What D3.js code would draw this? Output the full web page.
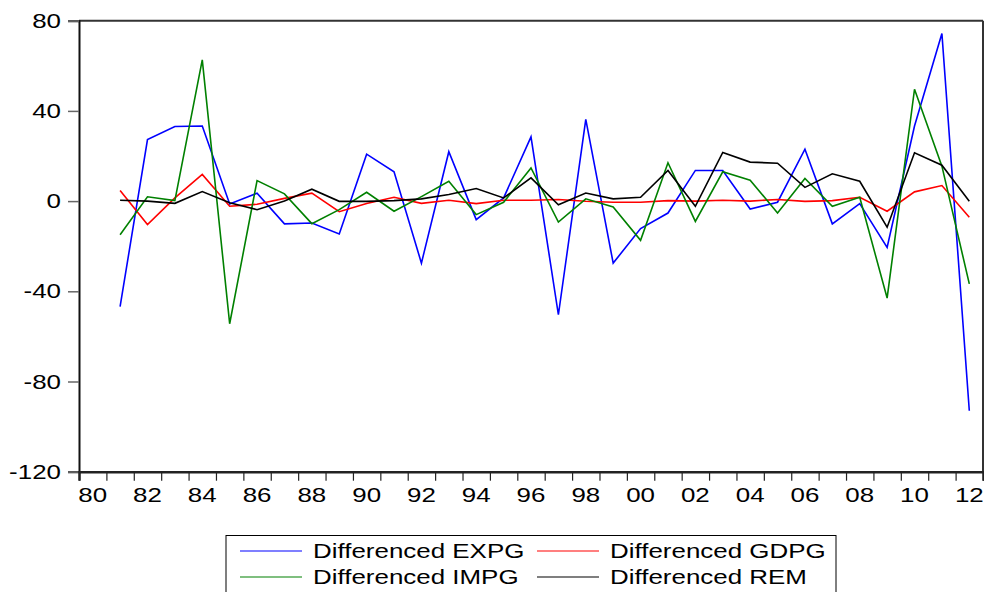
<!DOCTYPE html>
<html><head><meta charset="utf-8">
<script src="https://cdn.jsdelivr.net/npm/d3@7"></script>
<style>body{margin:0;background:#fff}svg{display:block}text{font-family:"Liberation Sans",Arial,sans-serif}</style>
</head><body>
<script>
const years = [1981,1982,1983,1984,1985,1986,1987,1988,1989,1990,1991,1992,1993,1994,1995,1996,1997,1998,1999,2000,2001,2002,2003,2004,2005,2006,2007,2008,2009,2010,2011,2012];
const expg = [-46.8,27.3,33.1,33.3,-1.3,3.5,-10.1,-9.7,-14.6,20.8,13.0,-27.5,21.9,-8.2,1.4,28.5,-50.4,36.2,-27.5,-12.2,-5.3,13.6,13.6,-3.5,-0.5,23.0,-10.1,-1.1,-20.5,33.3,74.3,-93.0];
const gdpg = [4.7,-10.4,1.4,11.8,-2.3,-1.4,1.2,3.5,-4.7,-1.1,1.7,-1.0,0.4,-1.1,0.4,0.4,0.7,-0.1,-0.5,-0.5,0.2,0.0,0.4,0.0,0.7,-0.1,0.2,1.7,-4.5,4.1,6.9,-7.2];
const impg = [-14.9,1.9,0.2,62.6,-54.4,9.1,3.2,-10.0,-3.8,3.9,-4.5,2.0,8.8,-6.0,-0.5,14.7,-9.3,1.0,-2.6,-17.4,17.0,-9.0,13.0,9.3,-5.3,10.0,-2.3,1.7,-43.0,49.6,15.5,-36.7];
const rem = [0.4,0.0,-1.0,4.2,-0.7,-3.8,0.0,5.3,-0.1,-0.1,0.2,1.0,2.9,5.6,1.4,10.3,-1.6,3.6,1.0,1.7,13.6,-2.3,21.6,17.3,16.8,6.1,12.1,8.8,-11.6,21.4,15.9,-0.1];
const yTicks = [-120,-80,-40,0,40,80];
const xLabelYears = [1980,1982,1984,1986,1988,1990,1992,1994,1996,1998,2000,2002,2004,2006,2008,2010,2012];
const xLabels = ["80","82","84","86","88","90","92","94","96","98","00","02","04","06","08","10","12"];
const seriesNames = ["Differenced EXPG","Differenced GDPG","Differenced IMPG","Differenced REM"];
const seriesColors = ["#0000ff","#ff0000","#008000","#000000"];

const W = 984, H = 592, SX = 1.33, FS = 19.5;
const svg = d3.select("body").append("svg").attr("width", W).attr("height", H);
const x = d3.scaleLinear().domain([1980, 2013]).range([79, 983]);
const y = d3.scaleLinear().domain([-120, 80]).range([471.7, 20.7]);

function stext(g, tx, ty, str, anchor) {
  return g.append("text").attr("transform", `translate(${tx},${ty}) scale(${SX},1)`)
    .attr("text-anchor", anchor).attr("font-size", FS).attr("fill", "#000").text(str);
}

// frame top/right
svg.append("line").attr("x1", 79).attr("x2", 983).attr("y1", y(80)).attr("y2", y(80)).attr("stroke", "#333").attr("stroke-width", 2);
svg.append("line").attr("x1", 983).attr("x2", 983).attr("y1", y(80)).attr("y2", y(-120)).attr("stroke", "#333").attr("stroke-width", 2);

// y axis
const yAxis = svg.append("g").attr("transform", "translate(79,0)")
  .call(d3.axisLeft(y).tickValues(yTicks).tickSize(11).tickFormat(""));
yAxis.select(".domain").attr("stroke", "#111").attr("stroke-width", 2);
yAxis.selectAll(".tick line").attr("stroke", "#666").attr("stroke-width", 1.5);
yTicks.forEach(v => stext(svg, 61, y(v) + 7, String(v), "end"));

// x axis
const allYears = d3.range(1980, 2014);
const xAxis = svg.append("g").attr("transform", `translate(0,${y(-120)})`)
  .call(d3.axisBottom(x).tickValues(allYears).tickSize(9).tickFormat(""));
xAxis.select(".domain").attr("stroke", "#222").attr("stroke-width", 2.5);
xAxis.selectAll(".tick line").attr("stroke", "#222").attr("stroke-width", 1.2);
xLabelYears.forEach((yr, i) => stext(svg, x(yr + 0.5), 502, xLabels[i], "middle"));

// series
const allSeries = [expg, gdpg, impg, rem];
const line = d3.line().x((d, i) => x(years[i] + 0.5)).y(d => y(d));
allSeries.forEach((s, k) => {
  svg.append("path").datum(s).attr("d", line).attr("fill", "none")
    .attr("stroke", seriesColors[k]).attr("stroke-width", 1.6).attr("stroke-linejoin", "miter");
});

// legend
const lg = svg.append("g");
lg.append("rect").attr("x", 226).attr("y", 535.5).attr("width", 610).attr("height", 70)
  .attr("fill", "#fff").attr("stroke", "#000").attr("stroke-width", 1);
const lpos = [[240, 551], [537, 551], [240, 577], [537, 577]];
lpos.forEach(([lx, ly], k) => {
  lg.append("line").attr("x1", lx).attr("x2", lx + 62).attr("y1", ly).attr("y2", ly)
    .attr("stroke", seriesColors[k]).attr("stroke-width", 1.2);
  stext(lg, lx + 73, ly + 7, seriesNames[k], "start");
});
</script>
</body></html>
